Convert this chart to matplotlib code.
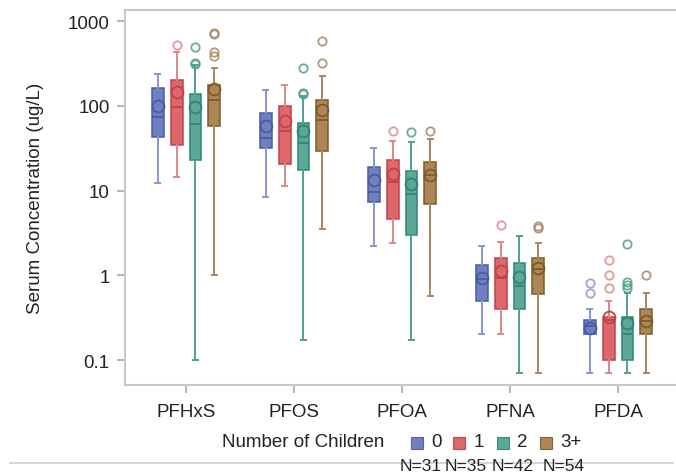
import numpy as np
import matplotlib
matplotlib.use("Agg")
import matplotlib.pyplot as plt
from matplotlib.patches import Rectangle
from matplotlib.lines import Line2D
from matplotlib.ticker import FixedLocator, NullLocator

plt.rcParams['font.family'] = ['Liberation Sans', 'DejaVu Sans']

# data (rows = compounds, columns = number of children)
compounds = ['PFHxS', 'PFOS', 'PFOA', 'PFNA', 'PFDA']
groups = ['0', '1', '2', '3+']
n_counts = [31, 35, 42, 54]

whisker_low = [[12.4, 14.3, 0.10, 1.0],
               [8.3, 11.2, 0.17, 3.5],
               [2.2, 2.4, 0.17, 0.57],
               [0.20, 0.20, 0.07, 0.07],
               [0.07, 0.07, 0.07, 0.07]]
q1 = [[43, 34, 23, 57],
      [31.5, 20.6, 17.5, 29],
      [7.3, 4.6, 3.0, 6.9],
      [0.50, 0.40, 0.40, 0.60],
      [0.20, 0.10, 0.10, 0.20]]
median = [[74, 98, 61, 117],
          [42, 51, 36, 68],
          [9.7, 12.7, 9.1, 15.4],
          [0.90, 0.92, 0.75, 1.2],
          [0.25, 0.30, 0.20, 0.29]]
q3 = [[161, 201, 138, 176],
      [83, 100, 62, 118],
      [18.8, 22.9, 17.1, 21.5],
      [1.31, 1.61, 1.41, 1.61],
      [0.30, 0.32, 0.32, 0.40]]
whisker_high = [[235, 435, 300, 277],
                [153, 174, 130, 222],
                [31.8, 38.7, 37, 40.5],
                [2.23, 2.5, 2.9, 2.4],
                [0.40, 0.50, 0.62, 0.61]]
means = [[100, 144, 97, 158],
         [57, 66, 51, 89],
         [13.3, 15.7, 11.9, 15.2],
         [0.92, 1.12, 0.96, 1.22],
         [0.24, 0.32, 0.275, 0.285]]
outliers = [[[], [521], [497, 319, 312], [716, 700, 427, 390]],
            [[], [], [279, 141, 137], [580, 322]],
            [[], [51], [49], [50]],
            [[], [3.95], [], [3.6, 3.8]],
            [[0.81, 0.61], [1.51, 1.0, 0.70], [2.34, 0.84, 0.76, 0.70], [1.0]]]

fill_colors = ['#6474b8', '#d95b5e', '#4fa08f', '#a57c45']
edge_colors = ['#4a5aa8', '#c4404a', '#2e8674', '#7e5a2a']
whisker_colors = ['#8a96cf', '#d98789', '#4fa090', '#a88662']

fig = plt.figure(figsize=(6.76, 4.77), dpi=100)
ax = fig.add_axes([125 / 676, 1 - 386 / 477, 552 / 676, 375 / 477])

offsets = (np.arange(len(groups)) - 1.5) * 0.175
for g in range(len(groups)):
    stats = []
    for c in range(len(compounds)):
        stats.append({
            'whislo': whisker_low[c][g], 'q1': q1[c][g], 'med': median[c][g],
            'q3': q3[c][g], 'whishi': whisker_high[c][g], 'mean': means[c][g],
            'fliers': outliers[c][g],
        })
    pos = np.arange(len(compounds)) + offsets[g]
    ax.bxp(stats, positions=pos, widths=0.11, capwidths=0.05,
           patch_artist=True, showmeans=True, manage_ticks=False,
           boxprops=dict(facecolor=fill_colors[g], edgecolor=edge_colors[g],
                         linewidth=1.2, alpha=0.92),
           medianprops=dict(color=edge_colors[g], linewidth=1.3),
           whiskerprops=dict(color=whisker_colors[g], linewidth=1.4),
           capprops=dict(color=whisker_colors[g], linewidth=1.4),
           meanprops=dict(marker='o', markersize=8.5, markerfacecolor='none',
                          markeredgecolor=edge_colors[g], markeredgewidth=1.3),
           flierprops=dict(marker='o', markersize=6, markerfacecolor='none',
                           markeredgecolor=whisker_colors[g], markeredgewidth=1.3,
                           alpha=0.85))

ax.set_yscale('log')
ax.set_ylim(0.0507, 1349)
ax.set_xlim(-0.565, 4.546)
ax.yaxis.set_major_locator(FixedLocator([0.1, 1, 10, 100, 1000]))
ax.yaxis.set_minor_locator(NullLocator())
ax.set_yticklabels(['0.1', '1', '10', '100', '1000'])
ax.set_xticks(np.arange(len(compounds)))
ax.set_xticklabels(compounds)
ax.tick_params(axis='both', colors='#a8a8a8', length=6, width=1.2,
               labelcolor='#222222', labelsize=13.5, pad=5)
ax.tick_params(axis='x', pad=7)
for sp in ax.spines.values():
    sp.set_color('#c8c8c8')
    sp.set_linewidth(1.5)
ax.spines['right'].set_visible(False)  # frame runs off the right edge in the original
ax.set_ylabel('Serum Concentration (ug/L)', fontsize=13.5, color='#222222', labelpad=17)

# legend row below the plot, drawn by hand to match the spacing
leg_y = 1 - 443 / 477
fig.text(222 / 676, leg_y, 'Number of Children', fontsize=13.5,
         color='#222222', va='center', ha='left')
square_x = [411, 453, 497, 540]
label_x = [431, 474, 517, 560]
for i in range(len(groups)):
    fig.add_artist(Rectangle((square_x[i] / 676, 1 - 449.5 / 477), 12 / 676, 12 / 477,
                             transform=fig.transFigure, facecolor=fill_colors[i],
                             edgecolor=edge_colors[i], linewidth=0.8, alpha=0.92))
    fig.text(label_x[i] / 676, leg_y, groups[i], fontsize=13.5, color='#222222',
             ha='left', va='center')

n_x = [400, 445, 492, 543]
for x, n in zip(n_x, n_counts):
    fig.text(x / 676, 1 - 467 / 477, f'N={n}', fontsize=12.5, color='#222222',
             ha='left', va='center')

fig.add_artist(Line2D([10 / 676, 673 / 676], [1 - 464 / 477, 1 - 464 / 477],
                      color='#d0d0d0', linewidth=1.2))

fig.savefig('out.png', dpi=100)
